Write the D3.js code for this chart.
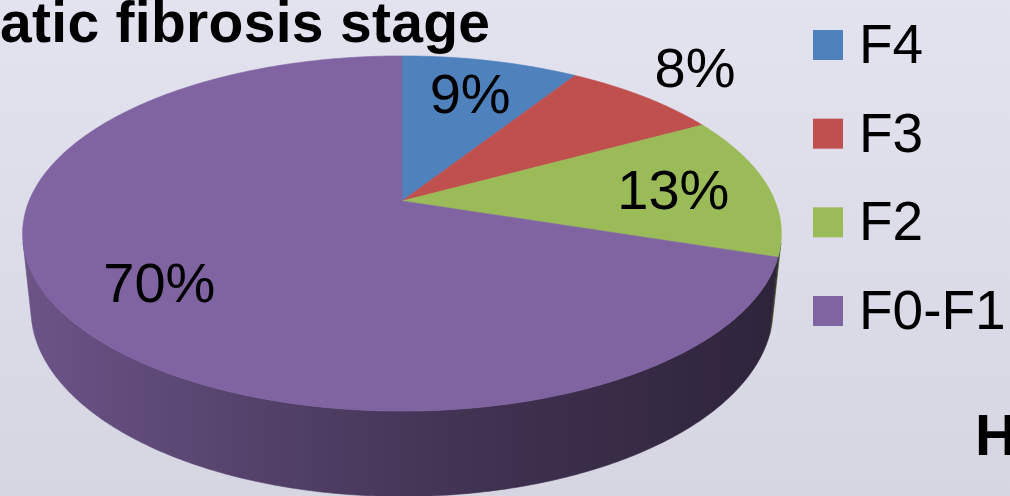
<!DOCTYPE html>
<html>
<head>
<meta charset="utf-8">
<script src="https://cdn.jsdelivr.net/npm/d3@7"></script>
<style>
  html, body { margin: 0; padding: 0; overflow: hidden; background: #dedeea; }
  svg { display: block; }
</style>
</head>
<body>
<svg id="chart" width="1010" height="496"></svg>
<script>
// Fibrosis stage distribution
const stages = ["F4", "F3", "F2", "F0-F1"];
const shares = [9, 8, 13, 70];
const sliceColors = ["#4f81bd", "#c0504d", "#9bbb59", "#8064a2"];
const titleText = "atic fibrosis stage";
const cornerText = "H";

const W = 1010, H = 496;
const svg = d3.select("#chart");
const defs = svg.append("defs");

// background wash
const bg = defs.append("linearGradient").attr("id", "bg")
  .attr("x1", 0).attr("y1", 0).attr("x2", 0).attr("y2", 1);
bg.append("stop").attr("offset", 0).attr("stop-color", "#e3e3f0");
bg.append("stop").attr("offset", 1).attr("stop-color", "#d6d6e2");
svg.append("rect").attr("width", W).attr("height", H).attr("fill", "url(#bg)");

// ---- perspective projection of a tilted disc ----
const cx = 402, cy = 201;                 // screen position of the disc centre
const tilt = 27.4 * Math.PI / 180;
const sinA = Math.sin(tilt), cosA = Math.cos(tilt);
const dist = 4.85;                        // camera distance (in radii)
const focal = 373 * dist;                 // px per radius at the centre depth
const depth = 0.23;                       // slab thickness (in radii)

function project(theta, r, y) {
  const X = r * Math.sin(theta), Z = r * Math.cos(theta);
  const v = Z * sinA + y * cosA;
  const d = Z * cosA - y * sinA;
  const s = focal / (dist + d);
  return [cx + X * s, cy - v * s];
}
// screen point -> polar position on the top face
function unproject(sx, sy) {
  const u = cy - sy;
  const Z = u * dist / (focal * sinA - u * cosA);
  const s = focal / (dist + Z * cosA);
  const X = (sx - cx) / s;
  let a = Math.atan2(X, Z);
  if (a < 0) a += 2 * Math.PI;
  return { angle: a, r: Math.hypot(X, Z) };
}
function arcPoints(a0, a1, r, y) {
  const n = Math.max(2, Math.ceil((a1 - a0) / (Math.PI / 360)));
  return d3.range(n + 1).map(i => project(a0 + (a1 - a0) * i / n, r, y));
}

const pie = d3.pie().sort(null).value(d => d);
const arcs = pie(shares);
const line = d3.line();

// extent of the top ellipse on screen
const rim = arcPoints(0, 2 * Math.PI, 1, 0);
const xExt = d3.extent(rim, p => p[0]);
const yExt = d3.extent(rim, p => p[1]);
const ellCx = (xExt[0] + xExt[1]) / 2, ellCy = (yExt[0] + yExt[1]) / 2;

// wall shading: lighter on the left, darker on the right
const shade = [[0, 0.84], [0.3, 0.66], [0.6, 0.5], [1, 0.36]];
sliceColors.forEach((c, i) => {
  const g = defs.append("linearGradient").attr("id", "wall" + i)
    .attr("gradientUnits", "userSpaceOnUse")
    .attr("x1", xExt[0]).attr("y1", 0).attr("x2", xExt[1]).attr("y2", 0);
  const base = d3.rgb(c);
  shade.forEach(([o, k]) => {
    g.append("stop").attr("offset", o)
      .attr("stop-color", d3.rgb(base.r * k, base.g * k, base.b * k).formatHex());
  });
});

// outer wall, only the part that faces the viewer
const thetaVis = Math.acos(-1 / (dist * cosA));
const gWall = svg.append("g");
arcs.forEach((a, i) => {
  const a0 = Math.max(a.startAngle, thetaVis);
  const a1 = Math.min(a.endAngle, 2 * Math.PI - thetaVis);
  if (a1 <= a0) return;
  const top = arcPoints(a0, a1, 1, 0);
  const bottom = arcPoints(a0, a1, 1, -depth).reverse();
  gWall.append("path")
    .attr("d", line(top.concat(bottom)) + "Z")
    .attr("fill", `url(#wall${i})`)
    .attr("stroke", `url(#wall${i})`)
    .attr("stroke-width", 0.6);
});

// top face
const gTop = svg.append("g");
arcs.forEach((a, i) => {
  const pts = [project(0, 0, 0)].concat(arcPoints(a.startAngle, a.endAngle, 1, 0));
  gTop.append("path")
    .attr("d", line(pts) + "Z")
    .attr("fill", sliceColors[i])
    .attr("stroke", sliceColors[i])
    .attr("stroke-width", 0.6)
    .attr("stroke-linejoin", "round");
});

// data labels: inside when the text fits within the slice, outside otherwise
const labelFont = 56;
const capH = 0.716 * labelFont;
const gLab = svg.append("g")
  .attr("font-family", "'Liberation Sans', Arial, sans-serif")
  .attr("font-size", labelFont)
  .attr("fill", "#000");
arcs.forEach((a, i) => {
  const t = gLab.append("text").attr("text-anchor", "middle").text(shares[i] + "%");
  const w = t.node().getComputedTextLength();
  const mid = (a.startAngle + a.endAngle) / 2;
  let [lx, ly] = project(mid, 0.74, 0);
  const pad = 4;
  const corners = [
    [lx - w / 2 - pad, ly - capH / 2 - pad], [lx + w / 2 + pad, ly - capH / 2 - pad],
    [lx - w / 2 - pad, ly + capH / 2 + pad], [lx + w / 2 + pad, ly + capH / 2 + pad]
  ];
  const fits = corners.every(([x, y]) => {
    const p = unproject(x, y);
    return p.r <= 1 && p.angle >= a.startAngle && p.angle <= a.endAngle;
  });
  if (!fits) {
    const edge = project(mid, 1, 0);
    let dx = edge[0] - ellCx, dy = edge[1] - ellCy;
    const len = Math.hypot(dx, dy);
    dx /= len; dy /= len;
    const ext = Math.abs(dx) * w / 2 + Math.abs(dy) * capH / 2 + 14;
    lx = edge[0] + dx * ext;
    ly = edge[1] + dy * ext;
  }
  t.attr("x", lx).attr("y", ly + capH / 2);
});

// title
svg.append("text")
  .attr("x", 0).attr("y", 42)
  .attr("font-family", "'Liberation Sans', Arial, sans-serif")
  .attr("font-weight", "bold")
  .attr("font-size", 57)
  .attr("letter-spacing", 0.3)
  .attr("fill", "#000")
  .text(titleText);

// legend
const legendY = d3.scalePoint().domain(stages).range([30, 296]);
const gLeg = svg.append("g")
  .attr("font-family", "'Liberation Sans', Arial, sans-serif")
  .attr("font-size", 55)
  .attr("fill", "#000");
stages.forEach((s, i) => {
  const y = legendY(s);
  gLeg.append("rect").attr("x", 813).attr("y", y).attr("width", 30).attr("height", 30)
    .attr("fill", sliceColors[i]);
  gLeg.append("text").attr("x", 859).attr("y", y + 33).text(s);
});

// clipped caption at the lower right
svg.append("text")
  .attr("x", 975).attr("y", 455)
  .attr("font-family", "'Liberation Sans', Arial, sans-serif")
  .attr("font-weight", "bold")
  .attr("font-size", 58)
  .attr("fill", "#000")
  .text(cornerText);
</script>
</body>
</html>
